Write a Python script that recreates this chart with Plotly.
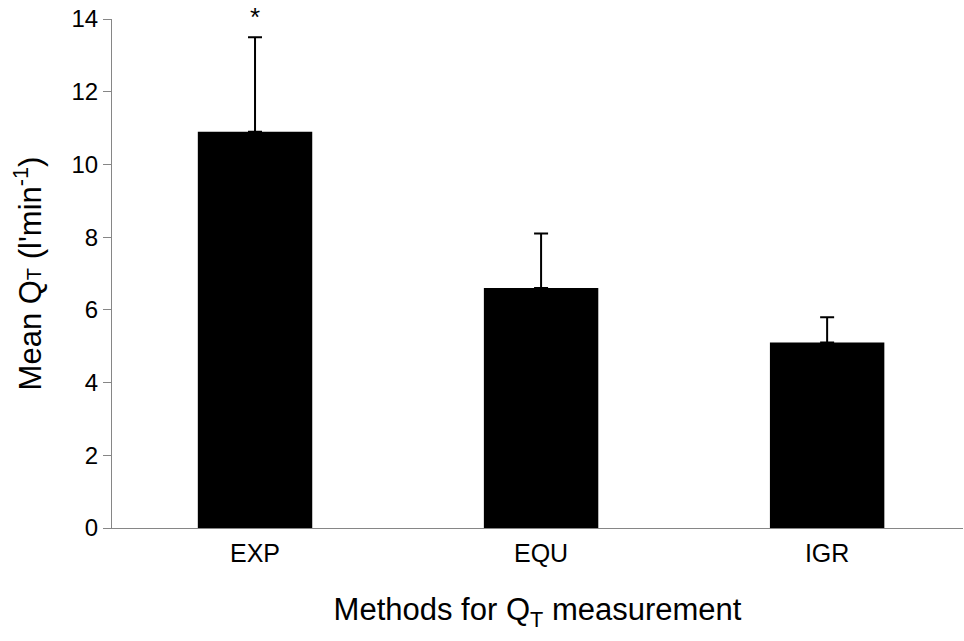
import plotly.graph_objects as go

categories = ["EXP", "EQU", "IGR"]
mean_qt = [10.9, 6.6, 5.1]
error_upper = [2.6, 1.5, 0.7]
y_ticks = [0, 2, 4, 6, 8, 10, 12, 14]

FONT = "Liberation Sans, Arial, sans-serif"

fig = go.Figure()
fig.add_trace(go.Bar(
    x=categories,
    y=mean_qt,
    width=0.40,
    marker=dict(color="black", line=dict(width=0)),
    error_y=dict(type="data", symmetric=False, array=error_upper,
                 arrayminus=[0] * len(error_upper),
                 color="black", thickness=2, width=7),
    showlegend=False,
))

fig.add_annotation(x="EXP", y=1.0, xref="x", yref="paper", text="*",
                   showarrow=False, font=dict(size=26, color="black", family=FONT),
                   yanchor="middle", yshift=2)

fig.update_layout(
    width=964, height=641,
    margin=dict(l=112, r=1, t=19, b=113),
    plot_bgcolor="white", paper_bgcolor="white",
    font=dict(family=FONT, color="black"),
    bargap=0.6,
)
fig.update_xaxes(
    range=[-0.5, 2.475],
    showline=True, linecolor="#868686", linewidth=1,
    ticks="", tickfont=dict(size=25), ticklabelstandoff=3,
    title=dict(text="Methods for Q<sub>T</sub> measurement", font=dict(size=31), standoff=32),
    showgrid=False, zeroline=False,
)
fig.update_yaxes(
    range=[0, 14], tickvals=y_ticks,
    showline=True, linecolor="#868686", linewidth=1,
    ticks="outside", ticklen=8, tickcolor="#868686", tickwidth=1,
    tickfont=dict(size=24),
    title=dict(text="Mean Q<span style='font-size:20px'>T</span> (l'min<sup>-1</sup>)",
               font=dict(size=31), standoff=20),
    showgrid=False, zeroline=False,
)

fig.write_html("out.html", config={"displayModeBar": False},
               post_script="document.body.style.margin='0';document.body.style.padding='0';")
